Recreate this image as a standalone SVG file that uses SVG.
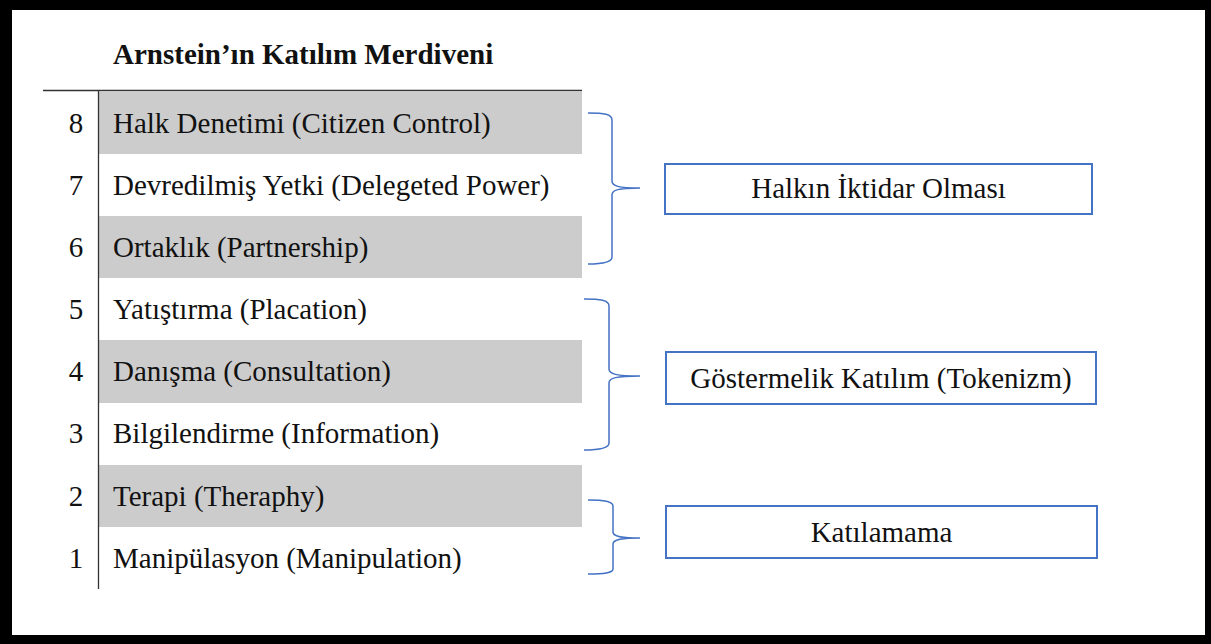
<svg xmlns="http://www.w3.org/2000/svg" width="1211" height="644" viewBox="0 0 1211 644">
<style>
.t{font-family:"Liberation Serif","Times New Roman",serif;font-size:29px;fill:#111}
.n{font-family:"Liberation Serif","Times New Roman",serif;font-size:29px;fill:#111;text-anchor:middle}
.b{font-family:"Liberation Serif","Times New Roman",serif;font-size:29px;fill:#111;text-anchor:middle}
.g{fill:#cccccc}
.br{fill:none;stroke:#4472c4;stroke-width:1.5}
.bx{fill:#fff;stroke:#4472c4;stroke-width:2}
</style>
<rect x="0" y="0" width="1211" height="644" fill="#000"/>
<rect x="12" y="10" width="1193" height="625" fill="#fff"/>
<text x="113" y="64" class="t" style="font-weight:bold">Arnstein’ın Katılım Merdiveni</text>
<g id="ladder">
<rect class="g" x="99" y="92" width="483" height="62"/>
<rect class="g" x="99" y="216" width="483" height="62"/>
<rect class="g" x="99" y="340" width="483" height="63"/>
<rect class="g" x="99" y="465" width="483" height="62"/>
<line x1="43" y1="90.5" x2="582" y2="90.5" stroke="#333" stroke-width="1.3"/>
<line x1="98.5" y1="90" x2="98.5" y2="589" stroke="#333" stroke-width="1.3"/>
</g>
<g id="row8"><text class="n" x="76" y="133">8</text><text class="t" x="113" y="133">Halk Denetimi (Citizen Control)</text></g>
<g id="row7"><text class="n" x="76" y="195">7</text><text class="t" x="113" y="195">Devredilmiş Yetki (Delegeted Power)</text></g>
<g id="row6"><text class="n" x="76" y="257">6</text><text class="t" x="113" y="257">Ortaklık (Partnership)</text></g>
<g id="row5"><text class="n" x="76" y="319">5</text><text class="t" x="113" y="319">Yatıştırma (Placation)</text></g>
<g id="row4"><text class="n" x="76" y="381">4</text><text class="t" x="113" y="381">Danışma (Consultation)</text></g>
<g id="row3"><text class="n" x="76" y="443">3</text><text class="t" x="113" y="443">Bilgilendirme (Information)</text></g>
<g id="row2"><text class="n" x="76" y="506">2</text><text class="t" x="113" y="506">Terapi (Theraphy)</text></g>
<g id="row1"><text class="n" x="76" y="568">1</text><text class="t" x="113" y="568">Manipülasyon (Manipulation)</text></g>
<g id="connectors">
<path class="br" d="M588,113 C604,113 612,114 612,120 L612,181 C612,186 618,188 640,188 C618,188 612,190 612,195 L612,257 C612,262 604,264 588,264"/>
<path class="br" d="M584,299 C600,299 609,300 609,306 L609,369 C609,374 616,376 640,376 C616,376 609,378 609,383 L609,443 C609,448 600,450 584,450"/>
<path class="br" d="M588,500 C604,500 613,501 613,506 L613,532 C613,536 619,538 640,538 C619,538 613,540 613,544 L613,569 C613,573 604,574 588,574"/>
</g>
<g id="box1"><rect class="bx" x="665" y="164" width="427" height="50"/><text class="b" x="878.5" y="198">Halkın İktidar Olması</text></g>
<g id="box2"><rect class="bx" x="666" y="352" width="430" height="52"/><text class="b" x="881" y="388">Göstermelik Katılım (Tokenizm)</text></g>
<g id="box3"><rect class="bx" x="666" y="506" width="431" height="52"/><text class="b" x="881.5" y="542">Katılamama</text></g>
</svg>
